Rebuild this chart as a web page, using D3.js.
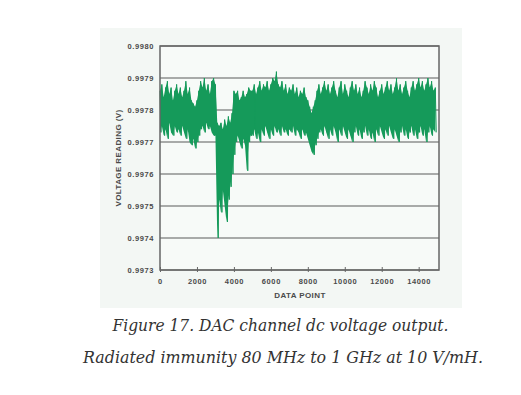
<!DOCTYPE html>
<html lang="en">
<head>
  <meta charset="UTF-8">
  <title>DAC channel dc voltage output</title>
  <style>
    * {
      box-sizing: border-box;
    }

    body {
      margin: 0;
      background-color: #fff;
    }

    svg {
      display: block;
    }
  </style>
</head>
<body>
<div class="demo"></div>
</body>
<script src="https://d3js.org/d3.v7.min.js"></script>
<script>
  // readings sampled every 100 data points: top and bottom of the noise band
  let step = 100

  let hi = [
    0.99786, 0.99788, 0.99784, 0.99787, 0.99789, 0.99785, 0.99787, 0.99783, 0.99786, 0.99788,
    0.99785, 0.99787, 0.99784, 0.99786, 0.99789, 0.99785, 0.99787, 0.99783, 0.99782, 0.99781,
    0.99783, 0.99786, 0.99789, 0.99787, 0.99790, 0.99786, 0.99788, 0.99785, 0.99789, 0.99790,
    0.99788, 0.99776, 0.99775, 0.99776, 0.99774, 0.99777, 0.99775, 0.99778, 0.99776, 0.99779,
    0.99786, 0.99785, 0.99786, 0.99783, 0.99784, 0.99786, 0.99784, 0.99785, 0.99787, 0.99786,
    0.99786, 0.99788, 0.99785, 0.99787, 0.99789, 0.99786, 0.99788, 0.99787, 0.99789, 0.99786,
    0.99788, 0.99790, 0.99789, 0.99792, 0.99788, 0.99787, 0.99789, 0.99786, 0.99788, 0.99785,
    0.99787, 0.99786, 0.99788, 0.99785, 0.99787, 0.99784, 0.99786, 0.99785, 0.99787, 0.99784,
    0.99783, 0.99781, 0.99779,
    0.99781, 0.99783, 0.99786, 0.99788, 0.99785, 0.99787, 0.99789, 0.99786, 0.99788, 0.99785,
    0.99787, 0.99789, 0.99786, 0.99784, 0.99787, 0.99789, 0.99785, 0.99788, 0.99786, 0.99784,
    0.99787, 0.99789, 0.99786, 0.99788, 0.99785, 0.99787, 0.99784, 0.99786, 0.99789, 0.99787,
    0.99785, 0.99788, 0.99786, 0.99789, 0.99787, 0.99784, 0.99786, 0.99788, 0.99785, 0.99787,
    0.99789, 0.99786, 0.99788, 0.99785, 0.99787, 0.99790, 0.99786, 0.99788, 0.99785, 0.99787,
    0.99789, 0.99786, 0.99784, 0.99787, 0.99789, 0.99786, 0.99788, 0.99790, 0.99787, 0.99789,
    0.99786, 0.99788, 0.99790, 0.99787, 0.99789, 0.99786, 0.99787
  ]

  let lo = [
    0.99773, 0.99775, 0.99772, 0.99774, 0.99771, 0.99776, 0.99773, 0.99772, 0.99775, 0.99773,
    0.99774, 0.99772, 0.99775, 0.99773, 0.99771, 0.99774, 0.99770, 0.99769, 0.99771, 0.99768,
    0.99770, 0.99772, 0.99774, 0.99775, 0.99773, 0.99776, 0.99774, 0.99775, 0.99773, 0.99772,
    0.99772, 0.99740, 0.99752, 0.99748, 0.99755, 0.99750, 0.99745, 0.99752, 0.99756, 0.99760,
    0.99766, 0.99770, 0.99772, 0.99770, 0.99768, 0.99771, 0.99769, 0.99761, 0.99770, 0.99772,
    0.99772, 0.99774, 0.99771, 0.99773, 0.99770, 0.99774, 0.99772, 0.99775, 0.99773, 0.99771,
    0.99774, 0.99772, 0.99775, 0.99773, 0.99774, 0.99772, 0.99775, 0.99773, 0.99774, 0.99772,
    0.99774, 0.99773, 0.99775, 0.99772, 0.99774, 0.99773, 0.99771, 0.99774, 0.99772, 0.99773,
    0.99771, 0.99769, 0.99767,
    0.99766, 0.99769, 0.99771, 0.99773, 0.99774, 0.99772, 0.99775, 0.99773, 0.99771, 0.99774,
    0.99772, 0.99775, 0.99773, 0.99770, 0.99774, 0.99772, 0.99775, 0.99773, 0.99771, 0.99774,
    0.99772, 0.99770, 0.99773, 0.99775, 0.99772, 0.99774, 0.99771, 0.99773, 0.99775, 0.99772,
    0.99774, 0.99771, 0.99773, 0.99770, 0.99774, 0.99772, 0.99775, 0.99773, 0.99771, 0.99774,
    0.99772, 0.99775, 0.99773, 0.99771, 0.99774, 0.99772, 0.99770, 0.99773, 0.99775, 0.99772,
    0.99774, 0.99771, 0.99773, 0.99775, 0.99772, 0.99774, 0.99771, 0.99773, 0.99775, 0.99772,
    0.99774, 0.99770, 0.99773, 0.99775, 0.99772, 0.99774, 0.99773
  ]

  let yTicks = [0.9973, 0.9974, 0.9975, 0.9976, 0.9977, 0.9978, 0.9979, 0.9980]
  let xTicks = [0, 2000, 4000, 6000, 8000, 10000, 12000, 14000]

  let caption = [
    'Figure 17. DAC channel dc voltage output.',
    'Radiated immunity 80 MHz to 1 GHz at 10 V/mH.'
  ]

  let W = 521, H = 395
  let plot = {left: 160, right: 439, top: 46, bottom: 270}

  let svg = d3.select('.demo').append('svg')
    .attr('width', W)
    .attr('height', H)

  // grey picture panel
  svg.append('rect')
    .attr('x', 100).attr('y', 28)
    .attr('width', 362).attr('height', 280)
    .attr('fill', '#f3f7f4')

  let x = d3.scaleLinear().domain([0, 15100]).range([plot.left, plot.right])
  let y = d3.scaleLinear().domain([0.9973, 0.9980]).range([plot.bottom, plot.top])

  svg.append('rect')
    .attr('x', plot.left).attr('y', plot.top)
    .attr('width', plot.right - plot.left).attr('height', plot.bottom - plot.top)
    .attr('fill', '#f7faf8')

  // horizontal grid
  svg.append('g')
    .selectAll('line')
    .data(yTicks)
    .enter()
    .append('line')
    .attr('x1', plot.left).attr('x2', plot.right)
    .attr('y1', d => y(d)).attr('y2', d => y(d))
    .attr('stroke', '#5a5a5a')
    .attr('stroke-width', 1.2)

  let green = '#159a5a'

  // solid noise band between top and bottom readings
  let band = d3.area()
    .x((d, i) => x(i * step))
    .y0((d, i) => y(lo[i]))
    .y1(d => y(d))

  svg.append('path')
    .attr('d', band(hi))
    .attr('fill', green)

  // zig-zag trace for the spiky edges
  let pts = []
  hi.forEach((v, i) => {
    pts.push([i * step, v])
    pts.push([i * step + step / 2, lo[i]])
  })

  let line = d3.line()
    .x(d => x(d[0]))
    .y(d => y(d[1]))

  svg.append('path')
    .attr('d', line(pts))
    .attr('fill', 'none')
    .attr('stroke', green)
    .attr('stroke-width', 1)

  // frame
  svg.append('rect')
    .attr('x', plot.left).attr('y', plot.top)
    .attr('width', plot.right - plot.left).attr('height', plot.bottom - plot.top)
    .attr('fill', 'none')
    .attr('stroke', '#666')
    .attr('stroke-width', 1.5)

  // x axis
  let xAxis = d3.axisBottom(x)
    .tickValues(xTicks)
    .tickSize(3)
    .tickPadding(6)
    .tickFormat(d3.format('d'))

  let gx = svg.append('g')
    .attr('transform', 'translate(0,' + plot.bottom + ')')
    .call(xAxis)
  gx.select('.domain').remove()
  gx.selectAll('.tick line')
    .attr('y1', -3).attr('y2', 2)
    .attr('stroke', '#666')
  gx.selectAll('text')
    .attr('font-family', 'Liberation Sans, Arial, sans-serif')
    .attr('font-size', '7.5px')
    .attr('font-weight', 'bold')
    .attr('letter-spacing', '0.6px')
    .attr('fill', '#4a4a4a')

  // y axis
  let yAxis = d3.axisLeft(y)
    .tickValues(yTicks)
    .tickSize(0)
    .tickPadding(6)
    .tickFormat(d3.format('.4f'))

  let gy = svg.append('g')
    .attr('transform', 'translate(' + plot.left + ',0)')
    .call(yAxis)
  gy.select('.domain').remove()
  gy.selectAll('text')
    .attr('font-family', 'Liberation Sans, Arial, sans-serif')
    .attr('font-size', '7.5px')
    .attr('font-weight', 'bold')
    .attr('letter-spacing', '0.6px')
    .attr('fill', '#4a4a4a')

  // axis titles
  svg.append('text')
    .attr('x', 300).attr('y', 298)
    .attr('text-anchor', 'middle')
    .attr('font-family', 'Liberation Sans, Arial, sans-serif')
    .attr('font-size', '8px')
    .attr('font-weight', 'bold')
    .attr('letter-spacing', '0.4px')
    .attr('fill', '#4a4a4a')
    .text('DATA POINT')

  svg.append('text')
    .attr('transform', 'translate(121,' + ((plot.top + plot.bottom) / 2) + ') rotate(-90)')
    .attr('text-anchor', 'middle')
    .attr('font-family', 'Liberation Sans, Arial, sans-serif')
    .attr('font-size', '8px')
    .attr('font-weight', 'bold')
    .attr('letter-spacing', '0.4px')
    .attr('fill', '#4a4a4a')
    .text('VOLTAGE READING (V)')

  // caption below picture
  svg.selectAll('.caption')
    .data(caption)
    .enter()
    .append('text')
    .attr('class', 'caption')
    .attr('x', (d, i) => i === 0 ? 280.5 : 283)
    .attr('y', (d, i) => 331 + i * 32)
    .attr('text-anchor', 'middle')
    .attr('font-family', 'DejaVu Serif, serif')
    .attr('font-style', 'italic')
    .attr('font-size', '16px')
    .attr('textLength', (d, i) => i === 0 ? 336 : 400)
    .attr('lengthAdjust', 'spacingAndGlyphs')
    .attr('fill', '#333')
    .text(d => d)
</script>
</html>
